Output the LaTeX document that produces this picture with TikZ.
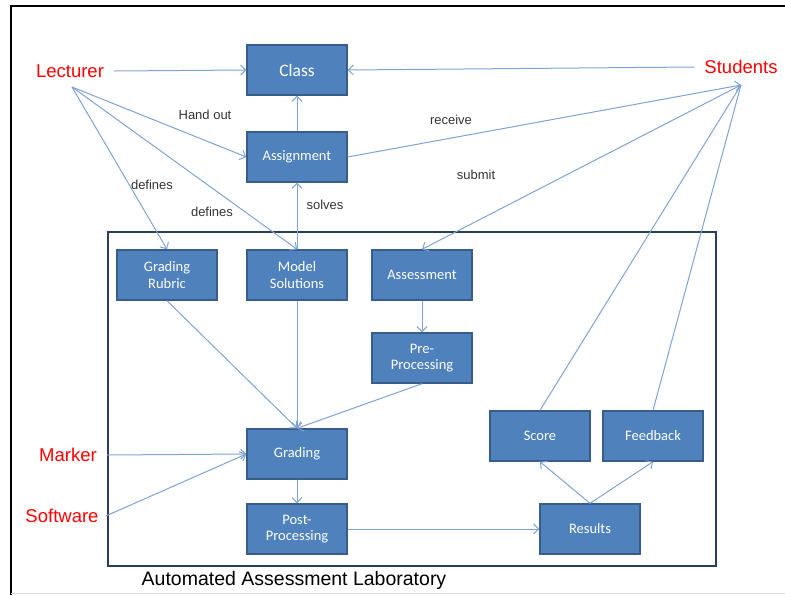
\documentclass[tikz,border=0pt]{standalone}
\usepackage{fontspec}
\setmainfont{Liberation Sans}
\newfontfamily\boxfont{Carlito}
\usepackage{tikz}
\usetikzlibrary{arrows.meta}

\definecolor{boxblue}{RGB}{79,129,189}
\definecolor{boxline}{RGB}{56,93,138}
\definecolor{linkblue}{RGB}{126,163,212}
\definecolor{framegray}{RGB}{42,62,92}

\begin{document}
\begin{tikzpicture}[x=1pt,y=-1pt,
    blk/.style={draw=boxline, line width=1.4pt, fill=boxblue, text=white,
        minimum width=100pt, minimum height=50pt, align=center,
        font=\boxfont\fontsize{14.5}{16.5}\selectfont},
    actor/.style={text=red, inner sep=10pt, font=\fontsize{18.5}{20}\selectfont},
    lbl/.style={text=black!80, font=\fontsize{13}{15}\selectfont},
    link/.style={draw=linkblue, line width=1pt},
    >={Straight Barb[length=5pt,width=10pt]}]
        \useasboundingbox (0,0) rectangle (785,595);
        % frame of the page
        \draw[line width=2.5pt] (11,595) -- (11,6) -- (785,6);
        \draw[black!15] (11,593) -- (785,593);

        % laboratory
        \draw[framegray, line width=1.5pt] (108,232) rectangle (716,566);
        \node[font=\fontsize{19.5}{21}\selectfont] (lab) at (294,580) {Automated Assessment Laboratory};

        % boxes
        \node[blk, font=\boxfont\fontsize{17.5}{19}\selectfont] (class) at (297,70) {Class};
        \node[blk] (asg) at (297,157) {Assignment};
        \node[blk] (rubric) at (167,275) {Grading\\Rubric};
        \node[blk] (msol) at (297,275) {Model\\Solutions};
        \node[blk] (asm) at (422,275) {Assessment};
        \node[blk] (pre) at (422,358) {Pre-\\Processing};
        \node[blk] (grad) at (297,454) {Grading};
        \node[blk] (post) at (297,529) {Post-\\Processing};
        \node[blk] (score) at (540,436) {Score};
        \node[blk] (fback) at (653,436) {Feedback};
        \node[blk] (res) at (590,529) {Results};

        % people
        \node[actor] (lect) at (70,71) {Lecturer};
        \node[actor] (stud) at (741,67) {Students};
        \node[actor] (mark) at (68,455) {Marker};
        \node[actor, inner sep=7pt] (soft) at (62,516) {Software};
        \coordinate (lectpt) at (72,87);
        \coordinate (studpt) at (741,85);

        % links
        \draw[link, ->] (lect.east) -- (class.west);
        \draw[link, ->] (stud.west) -- (class.east);
        \draw[link, ->] (lectpt) -- (asg.west);
        \draw[link, ->] (lectpt) -- (rubric.north);
        \draw[link, ->] (lectpt) -- (msol.north);
        \draw[link, ->] (asg) -- (class);
        \draw[link, ->] (msol.north) -- (asg.south);
        \draw[link, ->] (asg.east) -- (studpt);
        \draw[link, ->] (studpt) -- (asm.north);
        \draw[link] (score.north) -- (studpt);
        \draw[link] (fback.north) -- (studpt);
        \draw[link, ->] (asm) -- (pre);
        \draw[link, ->] (rubric.south) -- (grad.north);
        \draw[link, ->] (msol.south) -- (grad.north);
        \draw[link, ->] (pre.south) -- (grad.north);
        \draw[link, ->] (mark.east) -- (grad.west);
        \draw[link, ->] (soft.east) -- (grad.west);
        \draw[link, ->] (grad) -- (post);
        \draw[link, ->] (post) -- (res);
        \draw[link, ->] (res.north) -- (score.south);
        \draw[link, ->] (res.north) -- (fback.south);

        % link labels
        \node[lbl] (handout) at (205,115) {Hand out};
        \node[lbl] (def1) at (152,185) {defines};
        \node[lbl] (def2) at (212,212) {defines};
        \node[lbl] (solves) at (325,205) {solves};
        \node[lbl] (recv) at (451,120) {receive};
        \node[lbl] (subm) at (476,175) {submit};
\end{tikzpicture}
\end{document}
